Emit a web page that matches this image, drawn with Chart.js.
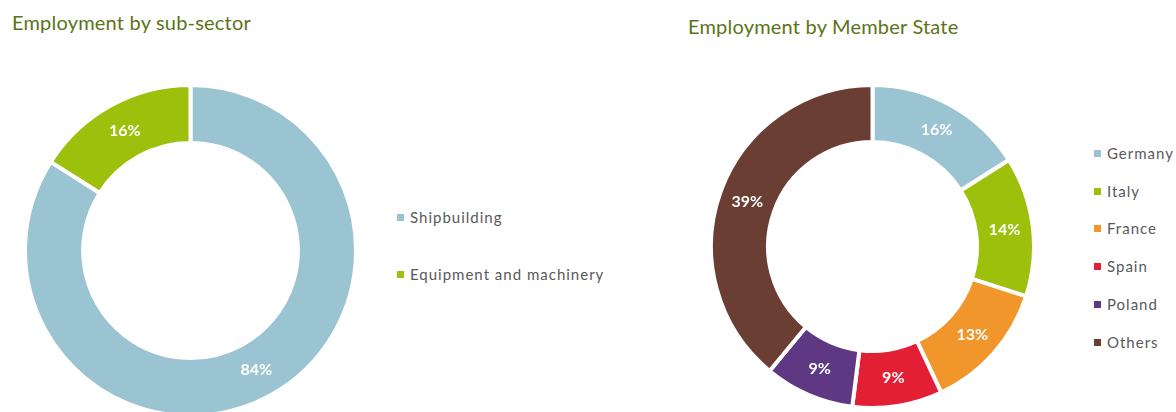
<!DOCTYPE html>
<html>
<head>
<meta charset="utf-8">
<script src="https://cdn.jsdelivr.net/npm/chart.js@4"></script>
<style>
  html, body { margin: 0; padding: 0; background: #fff; overflow: hidden; }
  body { width: 1176px; height: 412px; position: relative; font-family: Lato, "Open Sans", sans-serif; }
  .title { position: absolute; color: #5b7417; font-size: 20px; letter-spacing: 0.2px; white-space: nowrap; line-height: 1; }
  .box { position: absolute; }
  .legend { position: absolute; color: #595959; font-size: 15px; letter-spacing: 1px; white-space: nowrap; }
  .legend .item { position: absolute; left: 0; display: flex; align-items: center; height: 20px; }
  .legend .swatch { width: 7px; height: 7px; margin-right: 6px; margin-top: 1px; }
</style>
</head>
<body>
<div class="title" style="left:12px; top:12px;">Employment by sub-sector</div>
<div class="title" style="left:688px; top:16px;">Employment by Member State</div>

<div class="box" style="left:23px; top:83px; width:335px; height:335px;"><canvas id="sector"></canvas></div>
<div class="box" style="left:709px; top:83px; width:327px; height:327px;"><canvas id="state"></canvas></div>

<div class="legend" id="sectorLegend" style="left:397px; top:207px;"></div>
<div class="legend" id="stateLegend" style="left:1094px; top:143px;"></div>

<script>
// Employment split by sub-sector (%)
const sectorLabels = ['Shipbuilding', 'Equipment and machinery'];
const sectorValues = [84, 16];
const sectorColors = ['#9ac4d1', '#9cc00b'];

// Employment split by Member State (%)
const stateLabels = ['Germany', 'Italy', 'France', 'Spain', 'Poland', 'Others'];
const stateValues = [16, 14, 13, 9, 9, 39];
const stateColors = ['#9ac4d1', '#9cc00b', '#f0962b', '#e31f36', '#5e3882', '#6a3e33'];

// White percentage labels at the middle of each ring segment
const sliceLabels = {
  id: 'sliceLabels',
  afterDatasetsDraw(chart) {
    const ctx = chart.ctx;
    const meta = chart.getDatasetMeta(0);
    const values = chart.data.datasets[0].data;
    ctx.save();
    ctx.fillStyle = '#ffffff';
    ctx.font = 'bold 16px Lato, "Open Sans", sans-serif';
    ctx.textAlign = 'center';
    ctx.textBaseline = 'middle';
    meta.data.forEach((arc, i) => {
      const p = arc.tooltipPosition();
      ctx.fillText(values[i] + '%', p.x, p.y);
    });
    ctx.restore();
  }
};

function makeDoughnut(id, labels, values, colors, cutout) {
  return new Chart(document.getElementById(id), {
    type: 'doughnut',
    data: {
      labels: labels,
      datasets: [{
        data: values,
        backgroundColor: colors,
        borderColor: '#ffffff',
        borderWidth: 4,
        hoverOffset: 0
      }]
    },
    options: {
      responsive: true,
      maintainAspectRatio: false,
      animation: false,
      cutout: cutout,
      layout: { padding: 0 },
      plugins: {
        legend: { display: false },
        tooltip: { enabled: false }
      }
    },
    plugins: [sliceLabels]
  });
}

// Legend rows built from the chart's own legend items
function buildLegend(chart, el, step) {
  const items = chart.options.plugins.legend.labels.generateLabels(chart);
  items.forEach((it, i) => {
    const row = document.createElement('div');
    row.className = 'item';
    row.style.top = (i * step) + 'px';
    const sw = document.createElement('span');
    sw.className = 'swatch';
    sw.style.background = it.fillStyle;
    const tx = document.createElement('span');
    tx.textContent = it.text;
    row.appendChild(sw);
    row.appendChild(tx);
    el.appendChild(row);
  });
}

const sectorChart = makeDoughnut('sector', sectorLabels, sectorValues, sectorColors, '64.9%');
const stateChart = makeDoughnut('state', stateLabels, stateValues, stateColors, '64.7%');
buildLegend(sectorChart, document.getElementById('sectorLegend'), 57);
buildLegend(stateChart, document.getElementById('stateLegend'), 37.7);
</script>
</body>
</html>
